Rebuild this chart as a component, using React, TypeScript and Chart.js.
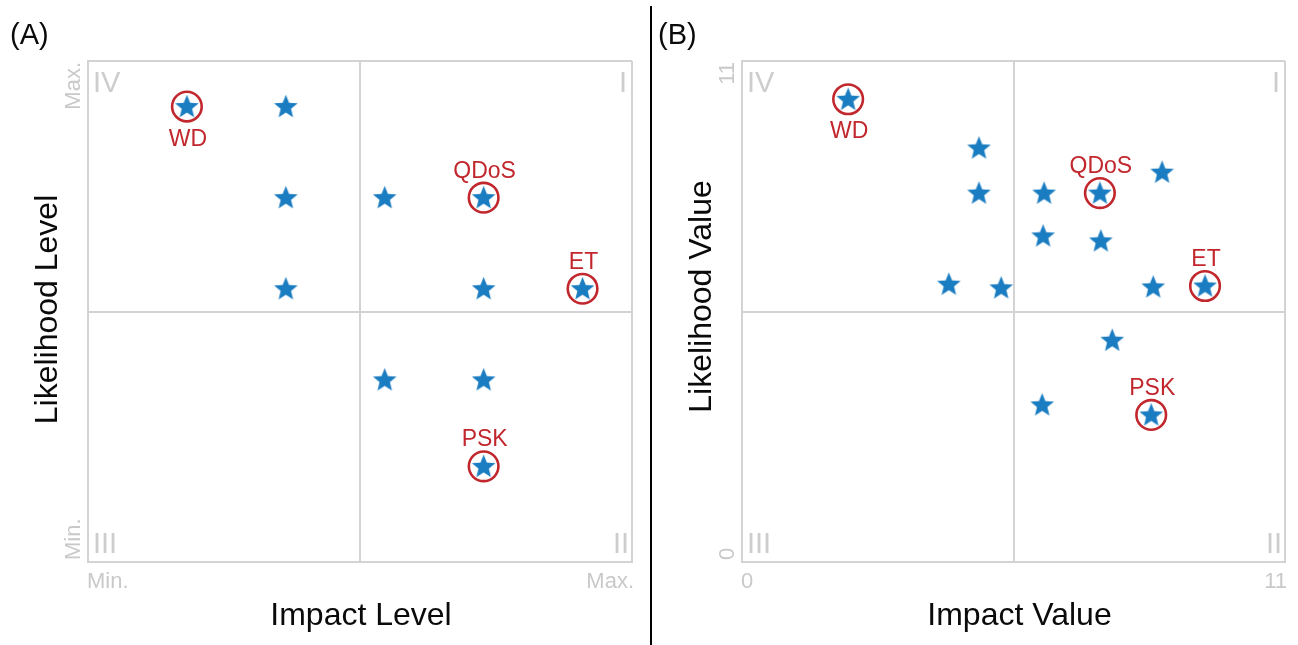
import React, { useEffect, useRef } from "react";
import { Chart, registerables } from "chart.js";

Chart.register(...registerables);

// ---------- Panel A (levels) ----------
const impactLevelsA = [1, 2, 2, 2, 3, 4, 4, 5, 3, 4, 4];
const likelihoodLevelsA = [5, 5, 4, 3, 4, 4, 3, 3, 2, 2, 1.05];
const pointNamesA = ["WD", "", "", "", "", "QDoS", "", "ET", "", "", "PSK"];
const tickLabelsA = ["Min.", "Max."];
const axisMaxA = 5.5;

// ---------- Panel B (values) ----------
const impactValuesB = [2.15, 4.8, 4.8, 6.12, 7.25, 8.51, 6.1, 7.27, 4.19, 5.25, 8.33, 9.38, 7.5, 6.08, 8.29];
const likelihoodValuesB = [10.16, 9.09, 8.1, 8.1, 8.1, 8.56, 7.16, 7.05, 6.1, 6.02, 6.04, 6.06, 4.87, 3.45, 3.23];
const pointNamesB = ["WD", "", "", "", "QDoS", "", "", "", "", "", "", "ET", "", "", "PSK"];
const tickLabelsB = ["0", "11"];
const axisMaxB = 11;

const quadrantLabels = ["I", "II", "III", "IV"];
const namesBelow = ["WD"];

const STAR_COLOR = "#1a7cc1";
const RED = "#c1272d";
const GRID = "#d3d3d3";
const LIGHT_TEXT = "#c9c9c9";
const FONT = '"Liberation Sans", Arial, sans-serif';

function makeStar(R: number): HTMLCanvasElement {
  const size = Math.ceil(R * 2 + 2);
  const c = document.createElement("canvas");
  c.width = size;
  c.height = size;
  const g = c.getContext("2d")!;
  const cx = size / 2;
  const cy = size / 2 + R * 0.05;
  const r = R * 0.44;
  g.beginPath();
  for (let i = 0; i < 10; i++) {
    const ang = -Math.PI / 2 + (i * Math.PI) / 5;
    const rad = i % 2 === 0 ? R : r;
    const x = cx + rad * Math.cos(ang);
    const y = cy + rad * Math.sin(ang);
    if (i === 0) g.moveTo(x, y);
    else g.lineTo(x, y);
  }
  g.closePath();
  g.fillStyle = STAR_COLOR;
  g.fill();
  return c;
}

type PanelCfg = {
  key: string;
  panelLabel: string;
  panelLabelX: number;
  xTitle: string;
  yTitle: string;
  xTitleShift: number;
  yTitleShift: number;
  axisMax: number;
  xs: number[];
  ys: number[];
  names: string[];
  ticks: string[];
  padding: { left: number; top: number; right: number; bottom: number };
  width: number;
  height: number;
};

function overlayPlugin(cfg: PanelCfg) {
  return {
    id: "overlay" + cfg.key,
    afterDraw(chart: any) {
      const { ctx, chartArea: ca, scales } = chart;
      ctx.save();
      ctx.textBaseline = "alphabetic";

      // panel label
      ctx.fillStyle = "#0a0a0a";
      ctx.font = `29px ${FONT}`;
      ctx.textAlign = "left";
      ctx.fillText(cfg.panelLabel, cfg.panelLabelX, 44);

      // axis titles
      ctx.font = `32px ${FONT}`;
      ctx.textAlign = "center";
      ctx.fillText(cfg.xTitle, (ca.left + ca.right) / 2 + cfg.xTitleShift, 625);
      ctx.save();
      ctx.translate(ca.left - 31, (ca.top + ca.bottom) / 2 + cfg.yTitleShift);
      ctx.rotate(-Math.PI / 2);
      ctx.fillText(cfg.yTitle, 0, 0);
      ctx.restore();

      // tick labels
      ctx.fillStyle = LIGHT_TEXT;
      ctx.font = `22px ${FONT}`;
      ctx.textAlign = "left";
      ctx.fillText(cfg.ticks[0], ca.left - 1, 588);
      ctx.textAlign = "right";
      ctx.fillText(cfg.ticks[1], ca.right + 2, 588);
      ctx.save();
      ctx.translate(ca.left - 8, ca.bottom - 2);
      ctx.rotate(-Math.PI / 2);
      ctx.textAlign = "left";
      ctx.fillText(cfg.ticks[0], 0, 0);
      ctx.restore();
      ctx.save();
      ctx.translate(ca.left - 8, ca.top + 1);
      ctx.rotate(-Math.PI / 2);
      ctx.textAlign = "right";
      ctx.fillText(cfg.ticks[1], 0, 0);
      ctx.restore();

      // quadrant numerals
      ctx.font = `29px ${FONT}`;
      ctx.fillStyle = "#cdcdcd";
      ctx.textAlign = "left";
      ctx.fillText(quadrantLabels[3], ca.left + 5, ca.top + 31);
      ctx.fillText(quadrantLabels[2], ca.left + 5, ca.bottom - 9);
      ctx.textAlign = "right";
      ctx.fillText(quadrantLabels[0], ca.right - 5, ca.top + 31);
      ctx.fillText(quadrantLabels[1], ca.right - 3, ca.bottom - 9);

      // point names
      ctx.font = `23px ${FONT}`;
      ctx.fillStyle = RED;
      ctx.textAlign = "center";
      cfg.names.forEach((name, i) => {
        if (!name) return;
        const px = scales.x.getPixelForValue(cfg.xs[i]);
        const py = scales.y.getPixelForValue(cfg.ys[i]);
        const below = namesBelow.includes(name);
        ctx.fillText(name, px + 1, below ? py + 39 : py - 20);
      });
      ctx.restore();
    },
  };
}

function Panel({ cfg, left }: { cfg: PanelCfg; left: number }) {
  const ref = useRef<HTMLCanvasElement | null>(null);
  useEffect(() => {
    if (!ref.current) return;
    const star = makeStar(12.4);
    const pts = cfg.xs.map((x, i) => ({ x, y: cfg.ys[i] }));
    const ringPts = pts.filter((_, i) => cfg.names[i] !== "");
    const scaleOpts = (max: number) => ({
      type: "linear" as const,
      min: 0,
      max,
      ticks: { display: false, stepSize: max / 2 },
      grid: { color: GRID, lineWidth: 2, drawTicks: false },
      border: { display: true, color: GRID, width: 2 },
      title: { display: false },
    });
    const chart = new Chart(ref.current, {
      type: "scatter",
      data: {
        datasets: [
          {
            data: ringPts,
            pointStyle: "circle",
            pointRadius: 14.8,
            pointBorderWidth: 2.6,
            pointBorderColor: RED,
            pointBackgroundColor: "rgba(0,0,0,0)",
            borderColor: RED,
            backgroundColor: "rgba(0,0,0,0)",
          },
          {
            data: pts,
            pointStyle: star as any,
            pointRadius: 12,
            borderColor: STAR_COLOR,
            backgroundColor: STAR_COLOR,
          },
        ],
      },
      options: {
        animation: false,
        responsive: false,
        events: [],
        layout: { padding: cfg.padding, autoPadding: false },
        plugins: { legend: { display: false }, tooltip: { enabled: false } },
        scales: { x: scaleOpts(cfg.axisMax), y: scaleOpts(cfg.axisMax) },
      } as any,
      plugins: [overlayPlugin(cfg)],
    });
    return () => chart.destroy();
  }, [cfg]);
  return (
    <canvas
      ref={ref}
      width={cfg.width}
      height={cfg.height}
      style={{ position: "absolute", left, top: 0, width: cfg.width, height: cfg.height }}
    />
  );
}

const panelA: PanelCfg = {
  key: "A",
  panelLabel: "(A)",
  panelLabelX: 10,
  xTitle: "Impact Level",
  yTitle: "Likelihood Level",
  xTitleShift: 1,
  yTitleShift: -2,
  axisMax: axisMaxA,
  xs: impactLevelsA,
  ys: likelihoodLevelsA,
  names: pointNamesA,
  ticks: tickLabelsA,
  padding: { left: 88, top: 61, right: 18, bottom: 83 },
  width: 650,
  height: 645,
};

const panelB: PanelCfg = {
  key: "B",
  panelLabel: "(B)",
  panelLabelX: 8,
  xTitle: "Impact Value",
  yTitle: "Likelihood Value",
  xTitleShift: 6,
  yTitleShift: -15,
  axisMax: axisMaxB,
  xs: impactValuesB,
  ys: likelihoodValuesB,
  names: pointNamesB,
  ticks: tickLabelsB,
  padding: { left: 92, top: 61, right: 13, bottom: 83 },
  width: 648,
  height: 645,
};

export default function App() {
  return (
    <div style={{ position: "absolute", left: 0, top: 0, width: 1298, height: 645, background: "#ffffff" }}>
      <Panel cfg={panelA} left={0} />
      <Panel cfg={panelB} left={650} />
      <div style={{ position: "absolute", left: 650, top: 6, width: 2, height: 639, background: "#000000" }} />
    </div>
  );
}
